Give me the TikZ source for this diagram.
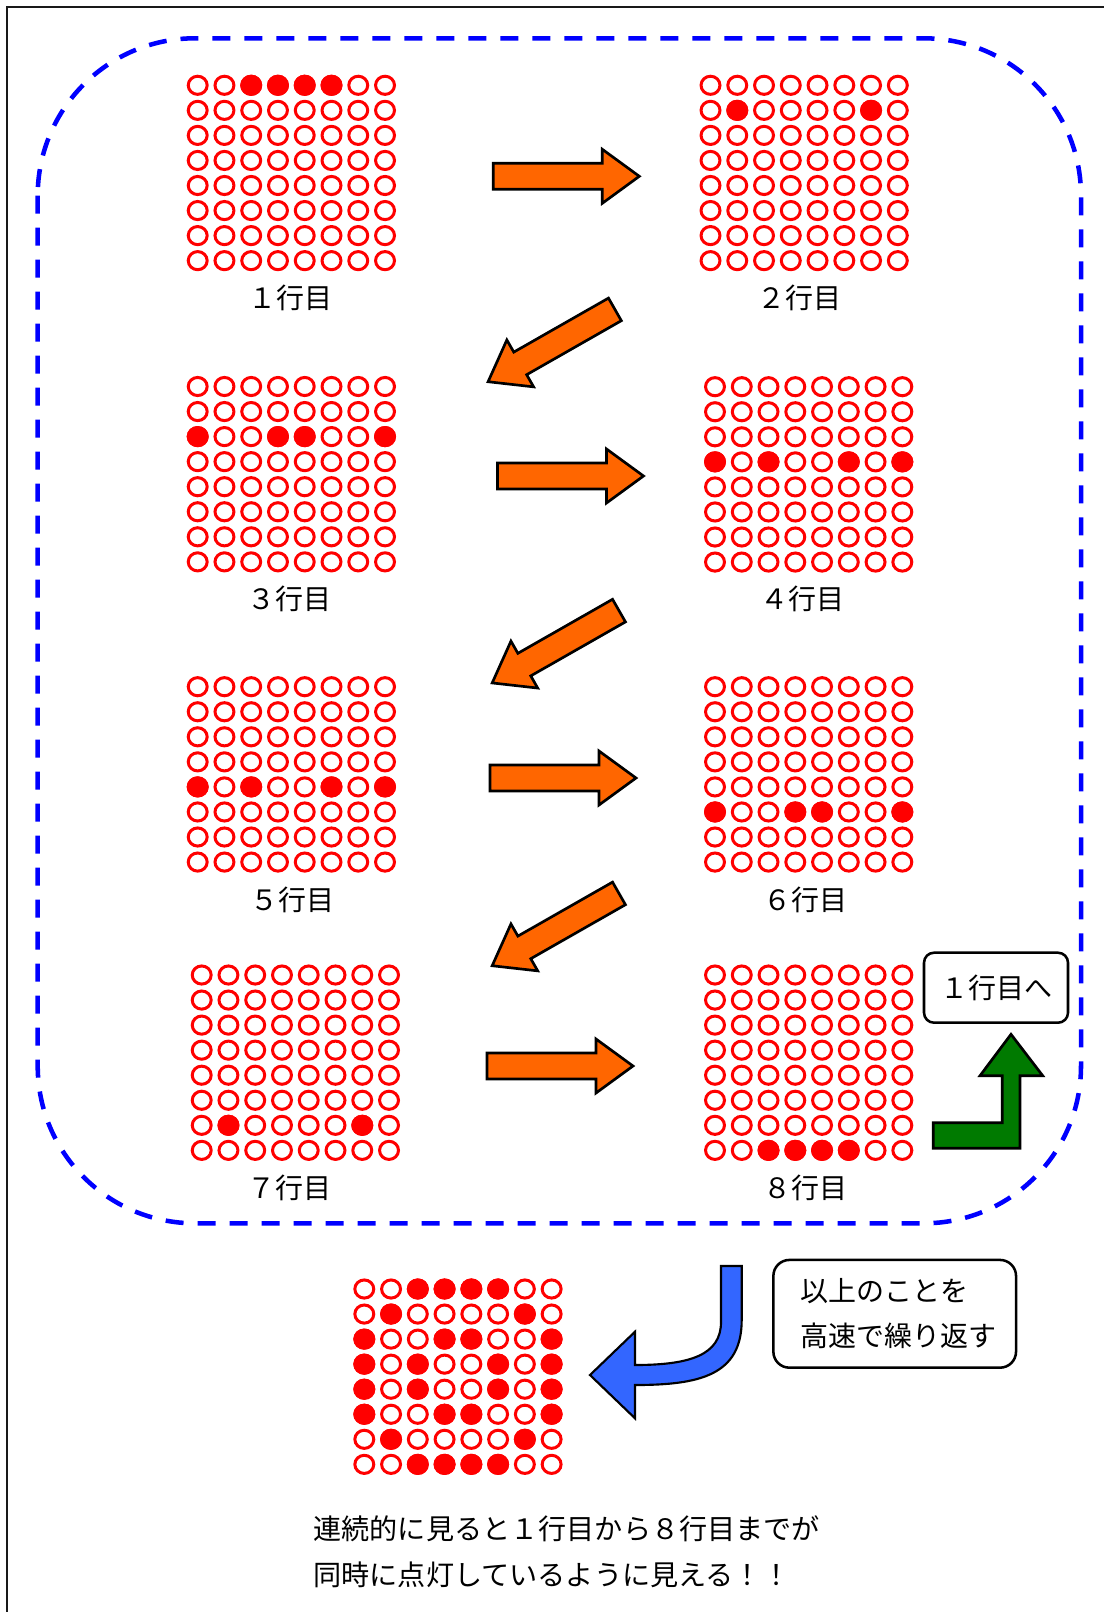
\documentclass[tikz,border=0pt]{standalone}
\usepackage{fontspec}
\setmainfont{Noto Sans CJK JP}
\definecolor{ledred}{RGB}{255,0,0}
\definecolor{arroworange}{RGB}{255,102,0}
\definecolor{arrowgreen}{RGB}{0,122,0}
\definecolor{arrowblue}{RGB}{51,102,255}
\definecolor{framegray}{RGB}{25,25,25}
\tikzset{
  ledoff/.style={draw=ledred, line width=2.25pt},
  ledon/.style={draw=ledred, fill=ledred, line width=2.25pt},
  rowlabel/.style={font=\fontsize{21pt}{25pt}\selectfont, inner sep=0pt},
  fatshape/.style={draw=black, line width=2pt, line join=miter, fill=arroworange},
  fatarrow/.pic={\draw[fatshape] (0,-13) -- (109,-13) -- (109,-27) -- (146,0) -- (109,27) -- (109,13) -- (0,13) -- cycle;},
  roundbox/.style={draw=black, line width=1.9pt, rounded corners=7.5pt, fill=white},
  boundary/.style={draw=blue, line width=3.4pt, dash pattern=on 13.5pt off 10.5pt, rounded corners=118pt},
}
\newcommand{\ledmatrix}[3]{%
  \foreach \r in {0,...,7}{\foreach \c in {0,...,7}{%
    \draw[ledoff] ({#1+\c*26.76},{#2+\r*25.05}) ellipse [x radius=7.1pt, y radius=6.8pt];}}%
  \foreach \r/\c in {#3}{%
    \draw[ledon] ({#1+\c*26.76},{#2+\r*25.05}) ellipse [x radius=7.1pt, y radius=6.8pt];}%
}
\begin{document}
\begin{tikzpicture}[x=0.75pt, y=-0.75pt]
\useasboundingbox (0,0) rectangle (1103,1612);
% outer frame (cut by the page)
\draw[framegray, line width=1.6pt] (7,1630) -- (7,7) -- (1120,7);
% dashed boundary
\draw[boundary] (37.7,38.3) rectangle (1081,1223.3);
% LED matrices
\ledmatrix{197.7}{85.3}{0/2,0/3,0/4,0/5}
\ledmatrix{710.5}{85.3}{1/1,1/6}
\ledmatrix{197.7}{386.5}{2/0,2/3,2/4,2/7}
\ledmatrix{715}{386.7}{3/0,3/2,3/5,3/7}
\ledmatrix{197.7}{686.7}{4/0,4/2,4/5,4/7}
\ledmatrix{715}{686.7}{5/0,5/3,5/4,5/7}
\ledmatrix{201.7}{975}{6/1,6/6}
\ledmatrix{715}{975}{7/2,7/3,7/4,7/5}
\ledmatrix{364.3}{1289}{0/2,0/3,0/4,0/5,1/1,1/6,2/0,2/3,2/4,2/7,3/0,3/2,3/5,3/7,4/0,4/2,4/5,4/7,5/0,5/3,5/4,5/7,6/1,6/6,7/2,7/3,7/4,7/5}
% labels
\node[rowlabel] (lab1) at (290,298) {１行目};
\node[rowlabel] (lab2) at (799,298) {２行目};
\node[rowlabel] (lab3) at (289,599) {３行目};
\node[rowlabel] (lab4) at (802,599) {４行目};
\node[rowlabel] (lab5) at (292,900) {５行目};
\node[rowlabel] (lab6) at (805,900) {６行目};
\node[rowlabel] (lab7) at (289,1188) {７行目};
\node[rowlabel] (lab8) at (805,1188) {８行目};
% orange arrows
\pic at (493.3,176.3) {fatarrow};
\pic[rotate=209.7] at (614.9,309.4) {fatarrow};
\pic at (497.5,476) {fatarrow};
\pic[rotate=209.7] at (619,610.6) {fatarrow};
\pic at (490,778) {fatarrow};
\pic[rotate=209.7] at (619,893.4) {fatarrow};
\pic at (487,1066) {fatarrow};
% back-to-first-row box and green arrow
\node[roundbox, minimum width=108pt, minimum height=52.5pt, rowlabel, inner sep=0pt] (back) at (996,987.7) {１行目へ};
\draw[draw=black, line width=2pt, line join=miter, fill=arrowgreen]
  (933.3,1122.7) -- (1002.3,1122.7) -- (1002.3,1075.7) -- (980,1075.7) -- (1011,1034.3)
  -- (1042.7,1075.7) -- (1020,1075.7) -- (1020,1148.3) -- (933.3,1148.3) -- cycle;
% blue curved arrow
\draw[draw=black, line width=1.6pt, line join=miter, fill=arrowblue]
  (721,1266) -- (741.7,1266) -- (741.7,1320)
  .. controls (741.7,1375) and (700,1385) .. (635,1385)
  -- (635,1418.3) -- (590,1375) -- (635,1331.7) -- (635,1365)
  .. controls (690,1365) and (721,1355) .. (721,1322) -- cycle;
% repeat box
\node[roundbox, minimum width=182pt, minimum height=80.8pt, rounded corners=12pt] (repbox) at (894.7,1313.8) {};
\node[anchor=west, align=left, inner sep=0pt, font=\fontsize{21pt}{33.75pt}\selectfont] (reptext) at ([xshift=21.3pt]repbox.west) {以上のことを\\高速で繰り返す};
% bottom text
\node[anchor=west, align=left, inner sep=0pt, font=\fontsize{21.1pt}{35pt}\selectfont] (summary) at (313.3,1551.7) {連続的に見ると１行目から８行目までが\\同時に点灯しているように見える！！};
\end{tikzpicture}
\end{document}
